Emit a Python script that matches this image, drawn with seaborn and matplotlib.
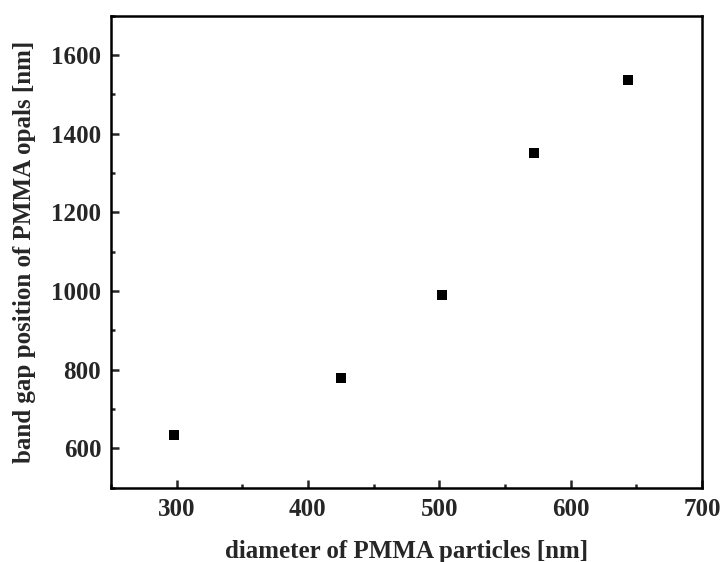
import numpy as np
import seaborn as sns
import matplotlib.pyplot as plt
from matplotlib.ticker import MultipleLocator

diameter = [298, 425, 502, 572, 644]
band_gap = [635, 780, 990, 1352, 1537]

sns.set_style("white")
plt.rcParams['font.family'] = ['Liberation Serif', 'DejaVu Serif']
plt.rcParams['font.weight'] = 'bold'

fig = plt.figure(figsize=(7.2, 5.62), dpi=100)
ax = fig.add_axes([0.154, 0.132, 0.821, 0.840])

sns.scatterplot(x=diameter, y=band_gap, marker='s', s=55, color='black',
                edgecolor='black', linewidth=0, ax=ax)

ax.set_xlim(250, 700)
ax.set_ylim(500, 1700)
ax.xaxis.set_major_locator(MultipleLocator(100))
ax.xaxis.set_minor_locator(MultipleLocator(50))
ax.yaxis.set_major_locator(MultipleLocator(200))
ax.yaxis.set_minor_locator(MultipleLocator(100))
ax.tick_params(which='both', direction='in', top=False, right=False,
               bottom=True, left=True, width=1.8, labelsize=18, pad=7)
ax.tick_params(which='major', length=6)
ax.tick_params(which='minor', length=3)
for lbl in ax.get_xticklabels() + ax.get_yticklabels():
    lbl.set_fontweight('bold')
for sp in ax.spines.values():
    sp.set_linewidth(1.8)
    sp.set_color('black')

ax.set_xlabel("diameter of PMMA particles [nm]", fontsize=18, fontweight='bold', labelpad=14)
ax.set_ylabel("band gap position of PMMA opals [nm]", fontsize=18, fontweight='bold', labelpad=11)

fig.savefig("out.png", dpi=100)
